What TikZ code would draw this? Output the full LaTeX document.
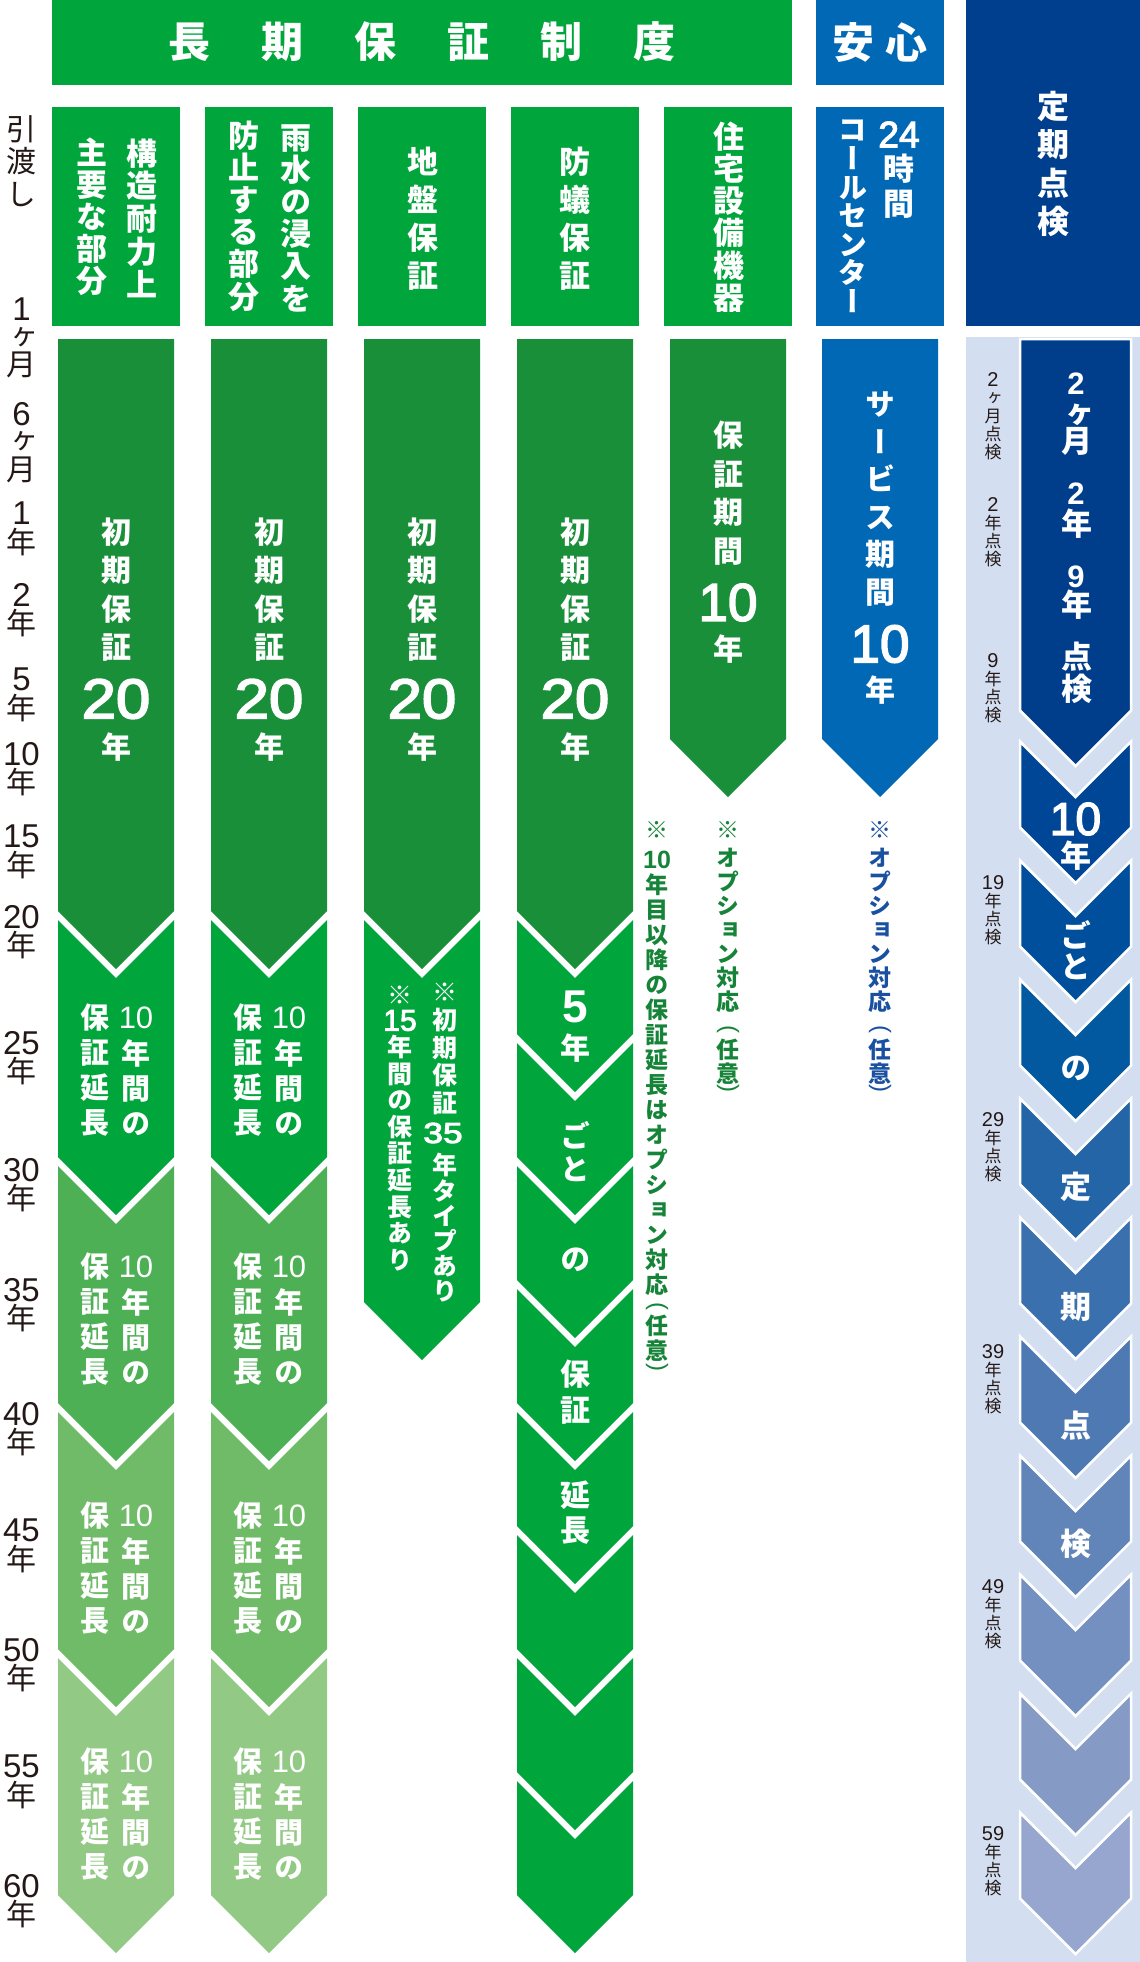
\documentclass[tikz,border=0pt]{standalone}
\usepackage{fontspec}
\usepackage{graphicx}
\setmainfont{Noto Sans CJK JP}
\newfontfamily\jp[RawFeature=+vert]{Noto Sans CJK JP}
\newfontfamily\lat{Liberation Sans}
\newfontface\latm[FakeBold=3]{Liberation Sans}
\definecolor{hgreen}{RGB}{0,165,60}
\definecolor{dgreen}{RGB}{26,143,58}
\definecolor{mgreen}{RGB}{77,176,85}
\definecolor{lgreen}{RGB}{112,187,104}
\definecolor{pgreen}{RGB}{146,201,132}
\definecolor{hblue}{RGB}{0,104,181}
\definecolor{navy}{RGB}{0,63,141}
\definecolor{lblue}{RGB}{211,223,241}
\definecolor{axis}{RGB}{35,24,21}
\definecolor{ngreen}{RGB}{22,132,56}
\definecolor{nblue}{RGB}{25,80,160}
\definecolor{nv0}{RGB}{0,62,140}
\definecolor{nv1}{RGB}{0,70,150}
\definecolor{nv2}{RGB}{0,79,156}
\definecolor{nv3}{RGB}{3,89,160}
\definecolor{nv4}{RGB}{36,101,167}
\definecolor{nv5}{RGB}{58,112,173}
\definecolor{nv6}{RGB}{79,121,178}
\definecolor{nv7}{RGB}{97,132,185}
\definecolor{nv8}{RGB}{116,144,192}
\definecolor{nv9}{RGB}{134,154,198}
\definecolor{nv10}{RGB}{151,166,206}
\newcommand\chevA[5]{\path[#5] (#1,#3) -- (#2,#3) -- (#2,#4) -- ({((#1)+(#2))/2},{(#4)+((#2)-(#1))/2}) -- (#1,#4) -- cycle;}
\newcommand\chevB[5]{\path[#5] (#1,#3) -- ({((#1)+(#2))/2},{(#3)+((#2)-(#1))/2}) -- (#2,#3) -- (#2,#4) -- ({((#1)+(#2))/2},{(#4)+((#2)-(#1))/2}) -- (#1,#4) -- cycle;}
\tikzset{
 jvt/.style 2 args={font={\jp\bfseries\fontsize{#1}{#2}\selectfont\lineskiplimit=-100pt}, align=center, inner sep=0pt, text=white},
 jvk/.style 2 args={font={\jp\fontsize{#1}{#2}\selectfont\lineskiplimit=-100pt}, align=center, inner sep=0pt, text=axis},
 numr/.style={font={\lat\fontsize{#1}{#1}\selectfont}, inner sep=0pt, text=white},
 numm/.style={font={\latm\fontsize{#1}{#1}\selectfont}, inner sep=0pt, text=white},
 numb/.style={font={\lat\bfseries\fontsize{#1}{#1}\selectfont}, inner sep=0pt, text=white},
 jax/.style={font={\jp\fontsize{30}{28.5}\selectfont\lineskiplimit=-100pt}, align=center, inner sep=0pt, text=axis, anchor=north},
 jlb/.style={font={\jp\fontsize{17}{18}\selectfont\lineskiplimit=-100pt}, align=center, inner sep=0pt, text=axis, anchor=north},
 jnt/.style={font={\jp\bfseries\fontsize{23}{#1}\selectfont\lineskiplimit=-100pt}, align=center, inner sep=0pt},
 jnt/.default=25,
 opn/.style={font={\lat\fontsize{24}{24}\selectfont}, inner sep=0pt, rotate=-90}
}
\newcommand\ad[1]{{\lat\fontsize{33}{33}\selectfont #1}}
\newcommand\sd[1]{{\lat\fontsize{20}{20}\selectfont #1}}
\newcommand\initblock[2]{%
 \node[jvt={30}{38.3}] (#2a) at (#1,589.5) {初\\期\\保\\証};
 \node[numm=56] (#2b) at (#1,699) {\scalebox{1.1}[1]{20}};
 \node[jvt={30}{30}] (#2c) at (#1,747) {年};}
\newcommand\extblock[3]{%
 \node[jvt={29}{35}] (#3a) at ({(#1)-21},#2) {保\\証\\延\\長};
 \node[numr=31] (#3b) at ({(#1)+20},{(#2)-52}) {10};
 \node[jvt={29}{35}] (#3c) at ({(#1)+20},{(#2)+18}) {年\\間\\の};}
\begin{document}
\begin{tikzpicture}[x=1pt,y=-1pt]
\useasboundingbox (0,0) rectangle (1140,1962);
% ---------- header row ----------
\fill[hgreen] (52,0) rectangle (792,85);
\node[jvt={42}{42}] (ttl) at (422,42) {長\hspace{51pt}期\hspace{51pt}保\hspace{51pt}証\hspace{51pt}制\hspace{51pt}度};
\fill[hblue] (816,0) rectangle (944,85);
\node[jvt={42}{42}] (anshin) at (880,43) {安\hspace{11pt}心};
\fill[navy] (966,0) rectangle (1140,326);
\node[jvt={32}{38.5}] (teiki) at (1053,164) {定\\期\\点\\検};
\fill[hgreen] (52,107) rectangle (180,326);
\fill[hgreen] (205,107) rectangle (333,326);
\fill[hgreen] (358,107) rectangle (486,326);
\fill[hgreen] (511,107) rectangle (639,326);
\fill[hgreen] (664,107) rectangle (792,326);
\fill[hblue] (816,107) rectangle (944,326);
\node[jvt={31}{32.75}] (h1r) at (141.5,218) {構\\造\\耐\\力\\上};
\node[jvt={31}{32}] (h1l) at (91.5,217) {主\\要\\な\\部\\分};
\node[jvt={31}{32.2}] (h2r) at (295.5,218) {雨\\水\\の\\浸\\入\\を};
\node[jvt={31}{32.2}] (h2l) at (244,216) {防\\止\\す\\る\\部\\分};
\node[jvt={31}{38}] (h3) at (423,219) {地\\盤\\保\\証};
\node[jvt={31}{38}] (h4) at (575,219) {防\\蟻\\保\\証};
\node[jvt={31}{32.3}] (h5) at (729,217) {住\\宅\\設\\備\\機\\器};
\node[numm=37] (h6n) at (899,134.5) {24};
\node[jvt={31}{35}] (h6k) at (898.5,186) {時\\間};
\node[jvt={29}{28.6}] (h6l) at (853,216.5) {コ\\ー\\ル\\セ\\ン\\タ\\ー};
% ---------- time axis ----------
\node[jvk={30}{32.5}] (hand) at (21.5,161) {引\\渡\\し};
\node[jax] (y0a) at (21.5,298) {\ad{1}\\[-1pt]ヶ\\[-1pt]月};
\node[jax] (y0b) at (21.5,402) {\ad{6}\\[-1pt]ヶ\\[-1pt]月};
\node[jax] (y1) at (21.5,502) {\ad{1}\\年};
\node[jax] (y2) at (21.5,583) {\ad{2}\\年};
\node[jax] (y5) at (21.5,668) {\ad{5}\\年};
\node[jax] (y10) at (21.5,742) {\ad{10}\\年};
\node[jax] (y15) at (21.5,825) {\ad{15}\\年};
\node[jax] (y20) at (21.5,905) {\ad{20}\\年};
\node[jax] (y25) at (21.5,1031) {\ad{25}\\年};
\node[jax] (y30) at (21.5,1158) {\ad{30}\\年};
\node[jax] (y35) at (21.5,1278) {\ad{35}\\年};
\node[jax] (y40) at (21.5,1402) {\ad{40}\\年};
\node[jax] (y45) at (21.5,1519) {\ad{45}\\年};
\node[jax] (y50) at (21.5,1638) {\ad{50}\\年};
\node[jax] (y55) at (21.5,1755) {\ad{55}\\年};
\node[jax] (y60) at (21.5,1874) {\ad{60}\\年};
% ---------- green bars ----------
\chevA{58}{174}{339}{911}{fill=dgreen}
\chevA{211}{327}{339}{911}{fill=dgreen}
\chevA{364}{480}{339}{911}{fill=dgreen}
\chevA{517}{633}{339}{911}{fill=dgreen}
\chevA{670}{786}{339}{739}{fill=dgreen}
\chevA{822}{938}{339}{739}{fill=hblue}
\chevB{58}{174}{920}{1157}{fill=hgreen}
\chevB{58}{174}{1166}{1403}{fill=mgreen}
\chevB{58}{174}{1412}{1649}{fill=lgreen}
\chevB{58}{174}{1658}{1895}{fill=pgreen}
\chevB{211}{327}{920}{1157}{fill=hgreen}
\chevB{211}{327}{1166}{1403}{fill=mgreen}
\chevB{211}{327}{1412}{1649}{fill=lgreen}
\chevB{211}{327}{1658}{1895}{fill=pgreen}
\chevB{364}{480}{920}{1302}{fill=hgreen}
\chevB{517}{633}{920}{1034}{fill=hgreen}
\chevB{517}{633}{1043}{1157}{fill=hgreen}
\chevB{517}{633}{1166}{1280}{fill=hgreen}
\chevB{517}{633}{1289}{1403}{fill=hgreen}
\chevB{517}{633}{1412}{1526}{fill=hgreen}
\chevB{517}{633}{1535}{1649}{fill=hgreen}
\chevB{517}{633}{1658}{1772}{fill=hgreen}
\chevB{517}{633}{1781}{1895}{fill=hgreen}
% bar texts
\initblock{116}{ia}
\initblock{269}{ib}
\initblock{422}{ic}
\initblock{575}{id}
\extblock{116}{1070}{ea}
\extblock{116}{1319}{eb}
\extblock{116}{1568}{ec}
\extblock{116}{1814}{ed}
\extblock{269}{1070}{fa}
\extblock{269}{1319}{fb}
\extblock{269}{1568}{fc}
\extblock{269}{1814}{fd}
% col3 notes inside chevron
\node[jvt={25}{27.6}] (j1) at (445,1049) {※\\初\\期\\保\\証};
\node[numm=29] (j2) at (443,1133) {\scalebox{1.22}[1]{35}};
\node[jvt={25}{25.2}] (j3) at (445,1228) {年\\タ\\イ\\プ\\あ\\り};
\node[jvt={25}{25}] (j4) at (400,995) {※};
\node[numm=30] (j5) at (400,1020.5) {15};
\node[jvt={25}{26.6}] (j6) at (400,1153) {年\\間\\の\\保\\証\\延\\長\\あ\\り};
% col4 texts
\node[numb=46] (p5) at (575,1007) {5};
\node[jvt={30}{30}] (p5n) at (575,1048) {年};
\node[jvt={30}{33}] (pgt) at (575,1152) {ご\\と};
\node[jvt={30}{30}] (pno) at (575,1260) {の};
\node[jvt={30}{36}] (pho) at (575,1392) {保\\証};
\node[jvt={30}{35}] (pen) at (575,1513) {延\\長};
% col5, col6 texts
\node[jvt={30}{38.7}] (s1) at (728,493) {保\\証\\期\\間};
\node[numm=53] (s2) at (728,602.5) {10};
\node[jvt={30}{30}] (s3) at (728,649) {年};
\node[jvt={30}{37.6}] (c1) at (880,499) {サ\\ー\\ビ\\ス\\期\\間};
\node[numm=53] (c2) at (880,644) {10};
\node[jvt={30}{30}] (c3) at (880,690) {年};
% notes
\node[jnt,text=ngreen] (g1a) at (657,829.5) {※};
\node[font={\lat\bfseries\fontsize{25}{25}\selectfont}, inner sep=0pt, text=ngreen] (g1b) at (657,860) {10};
\node[jnt,text=ngreen] (g1c) at (657,1085) {年\\目\\以\\降\\の\\保\\証\\延\\長\\は\\オ\\プ\\シ\\ョ\\ン\\対\\応};
\node[opn,text=ngreen] (g1d) at (657,1306) {(};
\node[jnt=25.5,text=ngreen] (g1e) at (657,1338) {任\\意};
\node[opn,text=ngreen] (g1f) at (657,1367) {)};
\node[jnt,text=ngreen] (g2a) at (728,829.5) {※};
\node[jnt=24,text=ngreen] (g2b) at (728,930) {オ\\プ\\シ\\ョ\\ン\\対\\応};
\node[opn,text=ngreen] (g2c) at (728,1029) {(};
\node[jnt=24,text=ngreen] (g2d) at (728,1062) {任\\意};
\node[opn,text=ngreen] (g2e) at (728,1088) {)};
\node[jnt,text=nblue] (b2a) at (880,829.5) {※};
\node[jnt=24,text=nblue] (b2b) at (880,930) {オ\\プ\\シ\\ョ\\ン\\対\\応};
\node[opn,text=nblue] (b2c) at (880,1029) {(};
\node[jnt=24,text=nblue] (b2d) at (880,1062) {任\\意};
\node[opn,text=nblue] (b2e) at (880,1088) {)};
% ---------- periodic inspection column ----------
\fill[lblue] (966,337) rectangle (1140,1962);
\chevA{1020}{1131}{339}{710.5}{fill=nv0,draw=white,line width=2.5pt}
\chevB{1020}{1131}{741.5}{827.5}{fill=nv1,draw=white,line width=2.5pt}
\chevB{1020}{1131}{860.5}{946.5}{fill=nv2,draw=white,line width=2.5pt}
\chevB{1020}{1131}{979.5}{1065.5}{fill=nv3,draw=white,line width=2.5pt}
\chevB{1020}{1131}{1098.5}{1184.5}{fill=nv4,draw=white,line width=2.5pt}
\chevB{1020}{1131}{1217.5}{1303.5}{fill=nv5,draw=white,line width=2.5pt}
\chevB{1020}{1131}{1336.5}{1422.5}{fill=nv6,draw=white,line width=2.5pt}
\chevB{1020}{1131}{1455.5}{1541.5}{fill=nv7,draw=white,line width=2.5pt}
\chevB{1020}{1131}{1574.5}{1660.5}{fill=nv8,draw=white,line width=2.5pt}
\chevB{1020}{1131}{1693.5}{1779.5}{fill=nv9,draw=white,line width=2.5pt}
\chevB{1020}{1131}{1812.5}{1898.5}{fill=nv10,draw=white,line width=2.5pt}
\node[numb=31] (t1) at (1076,384) {2};
\node[jvt={31}{26}] (t2) at (1077,430) {ヶ\\月};
\node[numb=31] (t3) at (1076,493.5) {2};
\node[jvt={31}{31}] (t4) at (1077,523.5) {年};
\node[numb=31] (t5) at (1076,576.5) {9};
\node[jvt={31}{31}] (t6) at (1077,605) {年};
\node[jvt={31}{31.5}] (t7) at (1077,673) {点\\検};
\node[numm=46] (u1) at (1075.5,819) {10};
\node[jvt={31}{31}] (u2) at (1075.5,856) {年};
\node[jvt={31}{31.5}] (u3) at (1075.5,950) {ご\\と};
\node[jvt={31}{31}] (u4) at (1075.5,1068.5) {の};
\node[jvt={31}{31}] (u5) at (1075.5,1186.5) {定};
\node[jvt={31}{31}] (u6) at (1075.5,1306.5) {期};
\node[jvt={31}{31}] (u7) at (1075.5,1425.5) {点};
\node[jvt={31}{31}] (u8) at (1075.5,1543.5) {検};
\node[jlb] (k1) at (993,372) {\sd{2}\\ヶ\\月\\点\\検};
\node[jlb] (k2) at (993,497) {\sd{2}\\年\\点\\検};
\node[jlb] (k3) at (993,653) {\sd{9}\\年\\点\\検};
\node[jlb] (k4) at (993,875) {\sd{19}\\年\\点\\検};
\node[jlb] (k5) at (993,1112) {\sd{29}\\年\\点\\検};
\node[jlb] (k6) at (993,1344) {\sd{39}\\年\\点\\検};
\node[jlb] (k7) at (993,1579) {\sd{49}\\年\\点\\検};
\node[jlb] (k8) at (993,1826) {\sd{59}\\年\\点\\検};
\end{tikzpicture}
\end{document}
